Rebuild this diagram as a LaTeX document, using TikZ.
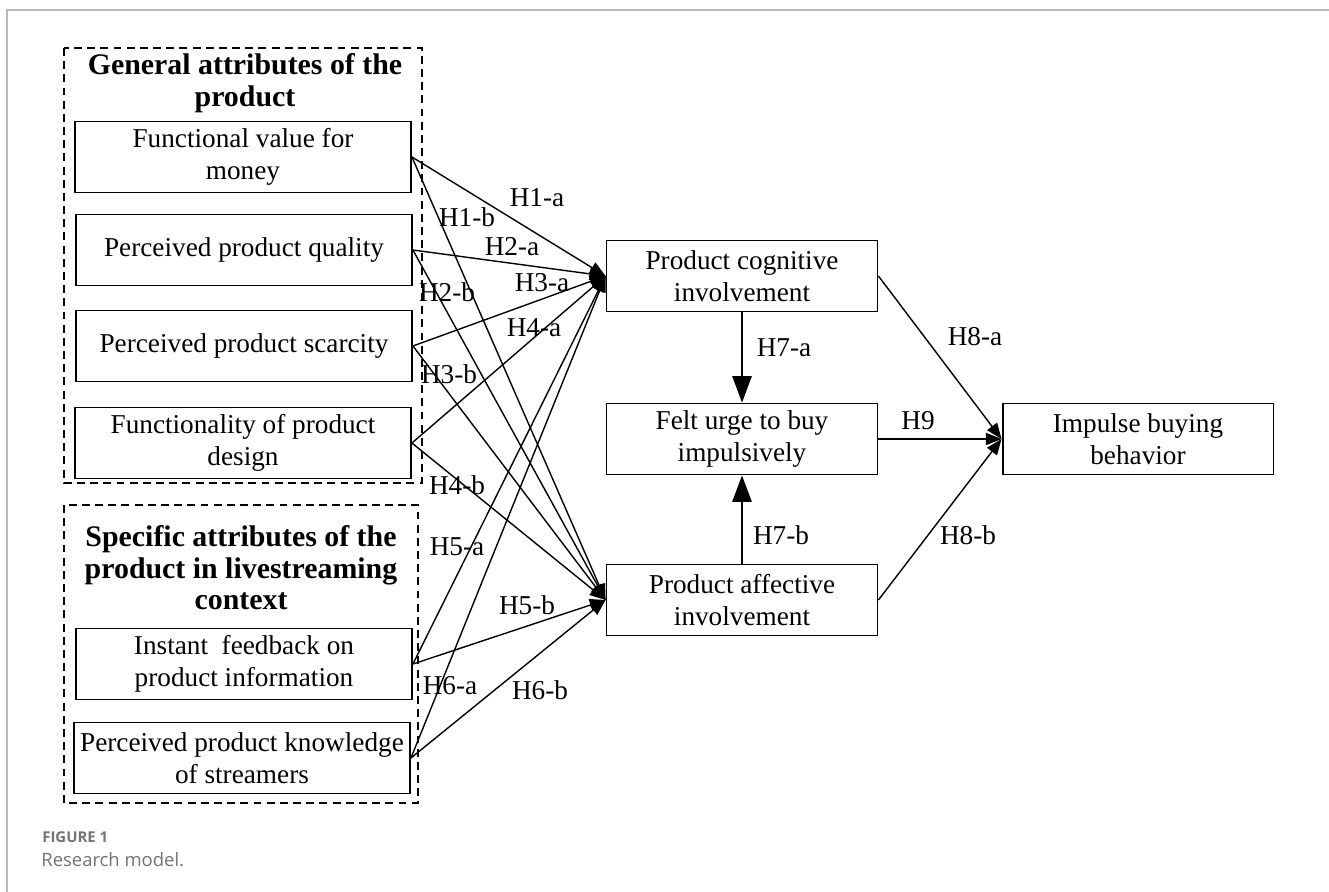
\documentclass[tikz,border=0pt]{standalone}
\usepackage{fontspec}
\setmainfont{Liberation Serif}
\newfontfamily\capfont{Open Sans}
\usetikzlibrary{arrows.meta}
\tikzset{>=stealth}

\begin{document}
\begin{tikzpicture}[x=0.02cm, y=-0.02cm,
	box/.style = {draw, line width=1.1pt, minimum width=6.72cm, minimum height=1.42cm, align=center, inner sep=1pt, font=\fontsize{15.5}{18}\selectfont},
	mid/.style = {box, minimum width=5.42cm},
	group/.style = {draw, dash pattern=on 4.5pt off 3pt, line width=1.1pt},
	title/.style = {align=center, inner sep=0pt, font=\fontsize{17}{18}\selectfont\bfseries},
	hyp/.style = {inner sep=0pt, font=\fontsize{15.5}{18}\selectfont},
	fan/.style = {-{Triangle[length=9pt, width=7pt]}, line width=0.8pt},
	up/.style = {-{Triangle[length=15pt, width=11pt]}, line width=0.8pt}]
	\useasboundingbox (0,0) rectangle (1329,892);
	\draw[gray!55, line width=0.8pt] (7,892) -- (7,10) -- (1329,10);
	% groups of attributes
	\draw[group] (64,48) rectangle (422,483);
	\draw[group] (64,505) rectangle (418,803);
	\node[title] (tgen) at (245,83) {General attributes of the\\product};
	\node[title] (tspec) at (241,568) {Specific attributes of the\\product in livestreaming\\context};
	\node[box] (fvm) at (243,157) {Functional value for\\money};
	\node[box] (ppq) at (244,250) {Perceived product quality};
	\node[box] (pps) at (244,346) {Perceived product scarcity};
	\node[box] (fpd) at (243,443) {Functionality of product\\design};
	\node[box] (ifp) at (244,664) {Instant \ feedback on\\product information};
	\node[box] (pks) at (242,758) {Perceived product knowledge\\of streamers};
	% involvement and outcome
	\node[mid] (cog) at (742,276) {Product cognitive\\involvement};
	\node[mid] (urge) at (742,439) {Felt urge to buy\\impulsively};
	\node[mid] (aff) at (742,600) {Product affective\\involvement};
	\node[mid] (ibb) at (1138,439) {Impulse buying\\behavior};
	\foreach \s in {fvm,ppq,pps,fpd,ifp,pks}
	{
		\draw[fan] (\s.east) -- (cog.west);
		\draw[fan] (\s.east) -- (aff.west);
	}
	\draw[up] (cog.south) -- (urge.north);
	\draw[up] (aff.north) -- (urge.south);
	\draw[fan] (cog.east) -- (ibb.west);
	\draw[fan] (urge.east) -- (ibb.west);
	\draw[fan] (aff.east) -- (ibb.west);
	% hypothesis labels
	\foreach \lbl/\x/\y in {H1-a/537/198, H1-b/467/217, H2-a/512/247, H2-b/447/292, H3-a/542/283, H4-a/534/328, H3-b/449/374, H4-b/457/485, H5-a/457/547, H5-b/527/605, H6-a/450/686, H6-b/540/690, H7-a/784/348, H7-b/781/535, H8-a/975/337, H8-b/968/535, H9/918/421}
	\node[hyp] (\lbl) at (\x,\y) {\lbl};
	\node[anchor=west, inner sep=0pt, text=black!55, font=\capfont\bfseries\fontsize{8.5}{10}\selectfont] (figno) at (42,837) {FIGURE 1};
	\node[anchor=west, inner sep=0pt, text=black!55, font=\capfont\fontsize{10.5}{12}\selectfont] (figcap) at (41,860) {Research model.};
\end{tikzpicture}
\end{document}
